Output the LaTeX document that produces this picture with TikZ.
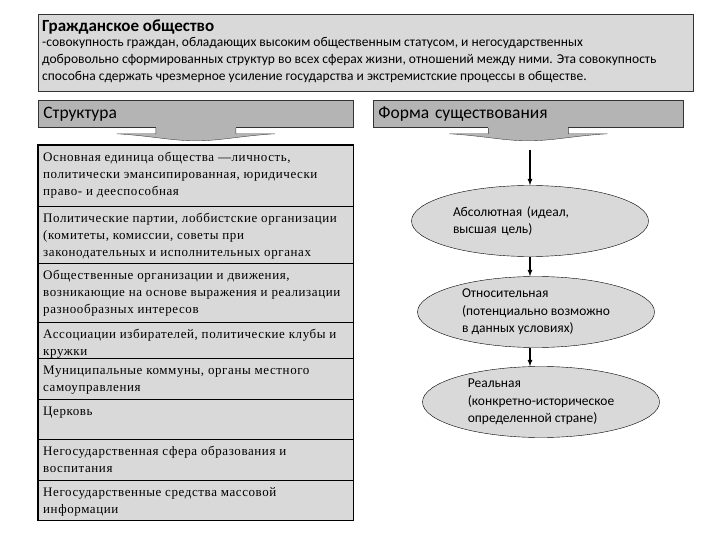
\documentclass[tikz,border=0pt]{standalone}
\usepackage{fontspec}
\setmainfont{Carlito}
\newfontfamily\rowfont[LetterSpace=4.5]{Liberation Serif}
\usetikzlibrary{arrows}
\usetikzlibrary{shapes}
\usetikzlibrary{calc}
\definecolor{BoxGray}{HTML}{D9D9D9}
\definecolor{HeadGray}{HTML}{B4B4B4}
\tikzstyle{TopBox}=[rectangle, draw=black!80, fill=BoxGray, thick, anchor=north west, inner sep=0pt, minimum width=655pt, minimum height=77pt]
\tikzstyle{TopText}=[anchor=base west, inner sep=0pt]
\tikzstyle{HeadBox}=[rectangle, draw=black!80, fill=HeadGray, thick, anchor=north west, inner xsep=5pt, inner ysep=0pt, minimum height=27pt, align=left, font=\fontsize{17.5}{20}\selectfont]
\tikzstyle{RowNode}=[rectangle, draw=black, fill=BoxGray, anchor=north west, inner xsep=5pt, inner ysep=4pt, font=\rowfont\fontsize{13}{17}\selectfont]
\tikzstyle{OuterEdge}=[draw=black, line width=1.8pt]
\tikzstyle{FormNode}=[ellipse, draw=black, fill=BoxGray, inner sep=0pt, minimum width=237pt, minimum height=71pt, align=left, font=\fontsize{13.5}{17.5}\selectfont]
\tikzstyle{FormEdge}=[->, line width=1.2pt]
\tikzstyle{HeadArrow}=[fill=HeadGray, draw=black!75]
\tikzset{>=latex}
\newcommand{\RowText}[2]{\parbox[c][#1][t]{305pt}{\strut#2}}
\newcommand{\HeadTail}[1]{%
\fill[HeadGray] ($(#1.south)+(-40,-1)$) rectangle ($(#1.south)+(40,6)$);
\filldraw[HeadArrow] ($(#1.south)+(-40,0)$) -- ($(#1.south)+(-40,6)$) -- ($(#1.south)+(-79,6)$)
  .. controls ($(#1.south)+(-45,8)$) and ($(#1.south)+(-25,13)$) .. ($(#1.south)+(0,13)$)
  .. controls ($(#1.south)+(25,13)$) and ($(#1.south)+(45,8)$) .. ($(#1.south)+(79,6)$)
  -- ($(#1.south)+(40,6)$) -- ($(#1.south)+(40,0)$);}

\begin{document}
\begin{tikzpicture}[x=1pt, y=-1pt]
\useasboundingbox[fill=white] (0,0) rectangle (720,540);

\node[TopBox](Civil) at (38,14) {};
\node[TopText, font=\bfseries\fontsize{17}{20}\selectfont](CivilTitle) at (42,31.5) {Гражданское общество};
\node[TopText, font=\fontsize{13.5}{17.2}\selectfont](CivilText) at (42,46.5) {\parbox[t]{647pt}{%
-совокупность граждан, обладающих высоким общественным статусом, и негосударственных\\
добровольно сформированных структур во всех сферах жизни, отношений между ними. Эта совокупность\\
способна сдержать чрезмерное усиление государства и экстремистские процессы в обществе.}};

\node[HeadBox, minimum width=315pt, text width=305pt](Struct) at (38,100) {Структура};
\node[HeadBox, minimum width=310pt, text width=300pt](Form) at (373,100) {Форма существования};
\HeadTail{Struct}
\HeadTail{Form}

\node[RowNode](Row1) at (38,145) {\RowText{53pt}{Основная единица общества —личность,\\политически эмансипированная, юридически\\право- и дееспособная}};
\node[RowNode](Row2) at (38,206) {\RowText{49pt}{Политические партии, лоббистские организации\\(комитеты, комиссии, советы при\\законодательных и исполнительных органах}};
\node[RowNode](Row3) at (38,263) {\RowText{51pt}{Общественные организации и движения,\\возникающие на основе выражения и реализации\\разнообразных интересов}};
\node[RowNode](Row4) at (38,322) {\RowText{28pt}{Ассоциации избирателей, политические клубы и\\кружки}};
\node[RowNode](Row5) at (38,358) {\RowText{33pt}{Муниципальные коммуны, органы местного\\самоуправления}};
\node[RowNode](Row6) at (38,399) {\RowText{32pt}{Церковь}};
\node[RowNode](Row7) at (38,439) {\RowText{33pt}{Негосударственная сфера образования и\\воспитания}};
\node[RowNode](Row8) at (38,480) {\RowText{32pt}{Негосударственные средства массовой\\информации}};
\draw[OuterEdge] (Row1.north west) rectangle (Row8.south east);

\node[FormNode, text width=154pt](FormA) at (530,221) {Абсолютная (идеал,\\высшая цель)};
\node[FormNode](FormB) at (536,312) {Относительная\\(потенциально возможно\\в данных условиях)};
\node[FormNode](FormC) at (541,402) {Реальная\\(конкретно-историческое\\определенной стране)};
\coordinate (FormTip) at (530,150);

\draw[FormEdge](FormTip) -- (FormA.north);
\draw[FormEdge](FormA.south) -- (FormA.south |- FormB.north);
\draw[FormEdge](FormB.south -| FormTip) -- (FormTip |- FormC.north);
\end{tikzpicture}
\end{document}
